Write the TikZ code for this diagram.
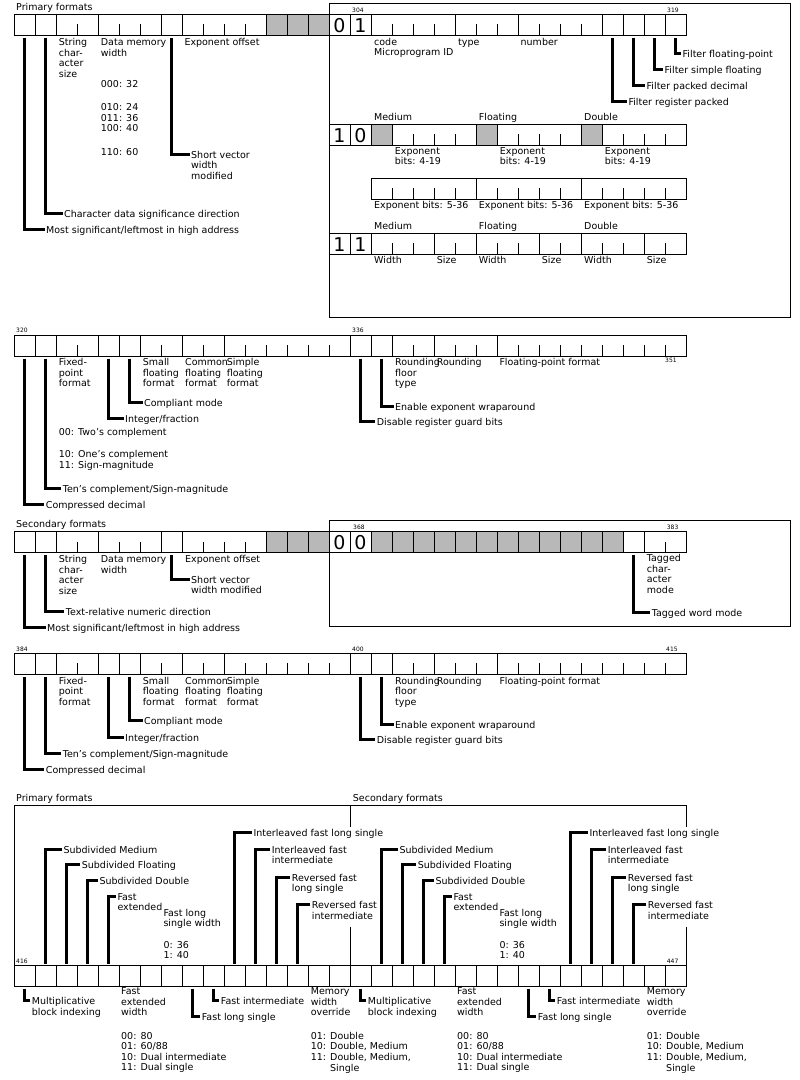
\documentclass[tikz,border=0pt]{standalone}
\usepackage{fontspec}
\setmainfont{DejaVu Sans}

\newcommand{\lblfont}{\fontsize{9.5}{10.6}\selectfont}

% one register row: name, top, first cell, last cell, full dividers
\newcommand{\bitrow}[5]{%
  \pgfmathtruncatemacro{\nextcell}{#3+1}%
  \foreach \bc in {#3,...,#4}{%
    \coordinate (#1-\bc) at ({24.5+21*\bc},{#2+21});
    \coordinate (#1-\bc-t) at ({24.5+21*\bc},{#2});
  }
  \foreach \bc in {\nextcell,...,#4}
    \draw[bittick] ({14+21*\bc},{#2+10}) -- ++(0,11);
  \foreach \bc in {#5}
    \draw[cellline] ({14+21*\bc},{#2}) -- ++(0,21);
  \draw[cellline] ({14+21*#3},{#2}) rectangle ({35+21*#4},{#2+21});
}
% stippled (reserved) cells: top, list of cells
\newcommand{\stipplecells}[2]{%
  \foreach \bc in {#2}
    \draw[cellline, fill=black!28] ({14+21*\bc},{#1}) rectangle ++(21,21);
}

\tikzset{
  cellline/.style={line width=1pt},
  bittick/.style={line width=1pt},
  leader/.style={line width=3pt},
  % labels are placed at the baseline of their first line
  lbl/.style={anchor=north west, yshift=7.42pt, inner sep=0pt, align=left,
    font=\lblfont, execute at begin node=\strut},
  digit/.style={anchor=base, inner sep=0pt, font=\fontsize{19}{19}\selectfont},
  bitno/.style={anchor=base west, inner sep=0pt, font=\fontsize{6}{6}\selectfont},
}

\begin{document}
\begin{tikzpicture}[x=1pt, y=-1pt]
  \useasboundingbox (0,0) rectangle (800,1080);

  % Primary formats, bits 288-319
  \node[lbl] (prim1) at (16,10) {Primary formats};
  \draw[cellline] (329,3) rectangle (790,317);
  \bitrow{a}{14}{0}{31}{1,2,4,7,8,12,13,14,15,16,17,21,24,28,29,30,31}
  \stipplecells{14}{12,13,14}
  \node[digit] (a0) at (339.5,32) {0};
  \node[digit] (a1) at (360.5,32) {1};
  \node[bitno] (n304) at (352,12) {304};
  \node[bitno] (n319) at (667,12) {319};

  \node[lbl] (strsize1) at (58.7,45.7) {String\\char-\\acter\\size};
  \node[lbl] (dmw1) at (100.7,45.7) {Data memory\\width};
  \node[lbl] (dmwa) at (100.7,87) {000: 32};
  \node[lbl] (dmwb) at (100.7,110.7) {010: 24\\011: 36\\100: 40};
  \node[lbl] (dmwc) at (100.7,155.3) {110: 60};
  \node[lbl] (expoff1) at (184.3,45.7) {Exponent offset};
  \node[lbl] (svw1) at (191,158) {Short vector\\width\\modified};
  \node[lbl] (cdsd) at (64,217) {Character data significance direction};
  \node[lbl] (msb1) at (46,233) {Most significant/leftmost in high address};
  \draw[leader] ([yshift=-2.5pt]a-7) |- ([xshift=-1.5pt,yshift=-3.7pt]svw1.north west);
  \draw[leader] ([yshift=-2.5pt]a-1) |- ([xshift=-1.5pt,yshift=-3.7pt]cdsd.north west);
  \draw[leader] ([yshift=-2.5pt]a-0) |- ([xshift=-1.5pt,yshift=-3.7pt]msb1.north west);

  \node[lbl] (code) at (374,45) {code\\Microprogram ID};
  \node[lbl] (type) at (458,45) {type};
  \node[lbl] (number) at (520.5,45) {number};
  \node[lbl] (ffp) at (682.5,57) {Filter floating-point};
  \node[lbl] (fsf) at (664.5,73.4) {Filter simple floating};
  \node[lbl] (fpd) at (646.5,89.4) {Filter packed decimal};
  \node[lbl] (frp) at (628.3,105.4) {Filter register packed};
  \draw[leader] ([yshift=-2.5pt]a-31) |- ([xshift=-1.5pt,yshift=-3.7pt]ffp.north west);
  \draw[leader] ([yshift=-2.5pt]a-30) |- ([xshift=-1.5pt,yshift=-3.7pt]fsf.north west);
  \draw[leader] ([yshift=-2.5pt]a-29) |- ([xshift=-1.5pt,yshift=-3.7pt]fpd.north west);
  \draw[leader] ([yshift=-2.5pt]a-28) |- ([xshift=-1.5pt,yshift=-3.7pt]frp.north west);

  % 10: exponent bits 4-19
  \bitrow{b}{124.3}{15}{31}{16,17,18,22,23,27,28}
  \stipplecells{124.3}{17,22,27}
  \node[digit] (b0) at (339.5,142.3) {1};
  \node[digit] (b1) at (360.5,142.3) {0};
  \node[lbl] (medb) at (374,120.7) {Medium};
  \node[lbl] (floatb) at (478.7,120.7) {Floating};
  \node[lbl] (dblb) at (584,120.7) {Double};
  \node[lbl] (expb1) at (394.7,154.5) {Exponent\\bits: 4-19};
  \node[lbl] (expb2) at (499.7,154.5) {Exponent\\bits: 4-19};
  \node[lbl] (expb3) at (604.7,154.5) {Exponent\\bits: 4-19};

  % exponent bits 5-36
  \bitrow{c}{178.3}{17}{31}{22,27}
  \node[lbl] (expc1) at (374,208.3) {Exponent bits: 5-36};
  \node[lbl] (expc2) at (478.7,208.3) {Exponent bits: 5-36};
  \node[lbl] (expc3) at (584,208.3) {Exponent bits: 5-36};

  % 11: width and size
  \bitrow{d}{233.3}{15}{31}{16,17,20,22,25,27,30}
  \node[digit] (d0) at (339.5,251.3) {1};
  \node[digit] (d1) at (360.5,251.3) {1};
  \node[lbl] (medd) at (374,229.7) {Medium};
  \node[lbl] (floatd) at (478.7,229.7) {Floating};
  \node[lbl] (dbld) at (584,229.7) {Double};
  \node[lbl] (wid1) at (374,263.3) {Width};
  \node[lbl] (siz1) at (436.7,263.3) {Size};
  \node[lbl] (wid2) at (478.7,263.3) {Width};
  \node[lbl] (siz2) at (541.7,263.3) {Size};
  \node[lbl] (wid3) at (584,263.3) {Width};
  \node[lbl] (siz3) at (646.7,263.3) {Size};

  % bits 320-351
  \bitrow{e}{335}{0}{31}{1,2,4,5,6,8,10,16,17,18,20,23}
  \node[bitno] (n320) at (16,332.5) {320};
  \node[bitno] (n336) at (352,332.5) {336};
  \node[bitno] (n351) at (665,362) {351};
  \node[lbl] (fixe) at (58.7,365.7) {Fixed-\\point\\format};
  \node[lbl] (smalle) at (142.7,365.7) {Small\\floating\\format};
  \node[lbl] (comme) at (185,365.7) {Common\\floating\\format};
  \node[lbl] (simpe) at (226.7,365.7) {Simple\\floating\\format};
  \node[lbl] (compl1) at (144,406.4) {Compliant mode};
  \node[lbl] (intf1) at (125,422.4) {Integer/fraction};
  \node[lbl] (twos) at (58.7,435.5) {00: Two's complement};
  \node[lbl] (ones) at (58.7,457.7) {10: One's complement\\11: Sign-magnitude};
  \node[lbl] (tens1) at (62.7,492) {Ten's complement/Sign-magnitude};
  \node[lbl] (cdec1) at (45.7,508) {Compressed decimal};
  \draw[leader] ([yshift=-2.5pt]e-5) |- ([xshift=-1.5pt,yshift=-3.7pt]compl1.north west);
  \draw[leader] ([yshift=-2.5pt]e-4) |- ([xshift=-1.5pt,yshift=-3.7pt]intf1.north west);
  \draw[leader] ([yshift=-2.5pt]e-1) |- ([xshift=-1.5pt,yshift=-3.7pt]tens1.north west);
  \draw[leader] ([yshift=-2.5pt]e-0) |- ([xshift=-1.5pt,yshift=-3.7pt]cdec1.north west);
  \node[lbl] (rfl1) at (395,365.7) {Rounding\\floor\\type};
  \node[lbl] (rnd1) at (436.7,365.7) {Rounding};
  \node[lbl] (fpf1) at (499.3,365.7) {Floating-point format};
  \node[lbl] (ewr1) at (395,410.4) {Enable exponent wraparound};
  \node[lbl] (drg1) at (376.7,425.4) {Disable register guard bits};
  \draw[leader] ([yshift=-2.5pt]e-17) |- ([xshift=-1.5pt,yshift=-3.7pt]ewr1.north west);
  \draw[leader] ([yshift=-2.5pt]e-16) |- ([xshift=-1.5pt,yshift=-3.7pt]drg1.north west);

  % Secondary formats, bits 352-383
  \node[lbl] (sec1) at (16,527.3) {Secondary formats};
  \draw[cellline] (329,520) rectangle (790,626);
  \bitrow{f}{531.5}{0}{31}{1,2,4,7,8,12,13,14,15,16,17,18,19,20,21,22,23,24,25,26,27,28,29,30}
  \stipplecells{531.5}{12,13,14,17,18,19,20,21,22,23,24,25,26,27,28}
  \node[digit] (f0) at (339.5,549.5) {0};
  \node[digit] (f1) at (360.5,549.5) {0};
  \node[bitno] (n368) at (353,529) {368};
  \node[bitno] (n383) at (666.7,529) {383};
  \node[lbl] (strsize2) at (58.7,562.7) {String\\char-\\acter\\size};
  \node[lbl] (dmw2) at (100.7,562.7) {Data memory\\width};
  \node[lbl] (expoff2) at (185,562.7) {Exponent offset};
  \node[lbl] (svw2) at (191,583) {Short vector\\width modified};
  \node[lbl] (trnd) at (65.7,615.4) {Text-relative numeric direction};
  \node[lbl] (msb2) at (47,631.4) {Most significant/leftmost in high address};
  \node[lbl] (tagc) at (646.7,561.7) {Tagged\\char-\\acter\\mode};
  \node[lbl] (tagw) at (651.7,616.4) {Tagged word mode};
  \draw[leader] ([yshift=-2.5pt]f-7) |- ([xshift=-1.5pt,yshift=-3.7pt]svw2.north west);
  \draw[leader] ([yshift=-2.5pt]f-1) |- ([xshift=-1.5pt,yshift=-3.7pt]trnd.north west);
  \draw[leader] ([yshift=-2.5pt]f-0) |- ([xshift=-1.5pt,yshift=-3.7pt]msb2.north west);
  \draw[leader] ([yshift=-2.5pt]f-29) |- ([xshift=-1.5pt,yshift=-3.7pt]tagw.north west);

  % bits 384-415
  \bitrow{g}{653.3}{0}{31}{1,2,4,5,6,8,10,16,17,18,20,23}
  \node[bitno] (n384) at (16,651) {384};
  \node[bitno] (n400) at (352,651) {400};
  \node[bitno] (n415) at (666,651) {415};
  \node[lbl] (fixg) at (58.7,684.3) {Fixed-\\point\\format};
  \node[lbl] (smallg) at (142.7,684.3) {Small\\floating\\format};
  \node[lbl] (commg) at (185,684.3) {Common\\floating\\format};
  \node[lbl] (simpg) at (226.7,684.3) {Simple\\floating\\format};
  \node[lbl] (compl2) at (144,724.4) {Compliant mode};
  \node[lbl] (intf2) at (125,741) {Integer/fraction};
  \node[lbl] (tens2) at (62.7,757) {Ten's complement/Sign-magnitude};
  \node[lbl] (cdec2) at (45.7,773) {Compressed decimal};
  \draw[leader] ([yshift=-2.5pt]g-5) |- ([xshift=-1.5pt,yshift=-3.7pt]compl2.north west);
  \draw[leader] ([yshift=-2.5pt]g-4) |- ([xshift=-1.5pt,yshift=-3.7pt]intf2.north west);
  \draw[leader] ([yshift=-2.5pt]g-1) |- ([xshift=-1.5pt,yshift=-3.7pt]tens2.north west);
  \draw[leader] ([yshift=-2.5pt]g-0) |- ([xshift=-1.5pt,yshift=-3.7pt]cdec2.north west);
  \node[lbl] (rfl2) at (395,684.3) {Rounding\\floor\\type};
  \node[lbl] (rnd2) at (436.7,684.3) {Rounding};
  \node[lbl] (fpf2) at (499.3,684.3) {Floating-point format};
  \node[lbl] (ewr2) at (395,728) {Enable exponent wraparound};
  \node[lbl] (drg2) at (376.7,743.7) {Disable register guard bits};
  \draw[leader] ([yshift=-2.5pt]g-17) |- ([xshift=-1.5pt,yshift=-3.7pt]ewr2.north west);
  \draw[leader] ([yshift=-2.5pt]g-16) |- ([xshift=-1.5pt,yshift=-3.7pt]drg2.north west);

  % bits 416-447, primary and secondary halves
  \node[lbl] (prim2) at (16,801) {Primary formats};
  \node[lbl] (sec2) at (352.7,801) {Secondary formats};
  \draw[cellline] (14,965) -- (14,805) -- (686,805) -- (686,826.7);
  \draw[cellline] (350,805) -- (350,826.7);
  \draw[cellline] (350,926.7) -- (350,965);
  \draw[cellline] (686,926.7) -- (686,965);
  \bitrow{h}{965}{0}{31}{1,...,31}
  \node[bitno] (n416) at (16,963) {416};
  \node[bitno] (n447) at (666.7,963) {447};

  \foreach \h/\o in {p/0,s/336}{
    \node[lbl] (subm\h) at ({63.3+\o},853) {Subdivided Medium};
    \node[lbl] (subf\h) at ({81.7+\o},868.4) {Subdivided Floating};
    \node[lbl] (subd\h) at ({99.3+\o},884.4) {Subdivided Double};
    \node[lbl] (fastx\h) at ({117.3+\o},900.4) {Fast\\extended};
    \node[lbl] (flsw\h) at ({163.3+\o},916) {Fast long\\single width};
    \node[lbl] (flsv\h) at ({163.3+\o},948.3) {0: 36\\1: 40};
    \node[lbl] (ifls\h) at ({253.3+\o},836.4) {Interleaved fast long single};
    \node[lbl] (ifi\h) at ({271.7+\o},853) {Interleaved fast\\intermediate};
    \node[lbl] (rfls\h) at ({291.7+\o},881) {Reversed fast\\long single};
    \node[lbl] (rfi\h) at ({311.7+\o},908.7) {Reversed fast\\intermediate};
    \draw[leader] ([xshift=\o pt,yshift=1.5pt]h-1-t) |- ([xshift=-1.5pt,yshift=-3.7pt]subm\h.north west);
    \draw[leader] ([xshift=\o pt,yshift=1.5pt]h-2-t) |- ([xshift=-1.5pt,yshift=-3.7pt]subf\h.north west);
    \draw[leader] ([xshift=\o pt,yshift=1.5pt]h-3-t) |- ([xshift=-1.5pt,yshift=-3.7pt]subd\h.north west);
    \draw[leader] ([xshift=\o pt,yshift=1.5pt]h-4-t) |- ([xshift=-1.5pt,yshift=-3.7pt]fastx\h.north west);
    \draw[leader] ([xshift=\o pt,yshift=1.5pt]h-10-t) |- ([xshift=-1.5pt,yshift=-3.7pt]ifls\h.north west);
    \draw[leader] ([xshift=\o pt,yshift=1.5pt]h-11-t) |- ([xshift=-1.5pt,yshift=-3.7pt]ifi\h.north west);
    \draw[leader] ([xshift=\o pt,yshift=1.5pt]h-12-t) |- ([xshift=-1.5pt,yshift=-3.7pt]rfls\h.north west);
    \draw[leader] ([xshift=\o pt,yshift=1.5pt]h-13-t) |- ([xshift=-1.5pt,yshift=-3.7pt]rfi\h.north west);

    \node[lbl] (mbi\h) at ({31.7+\o},1004.4) {Multiplicative\\block indexing};
    \node[lbl] (fxw\h) at ({121+\o},995) {Fast\\extended\\width};
    \node[lbl] (fxwv\h) at ({121+\o},1039.3) {00: 80\\01: 60/88\\10: Dual intermediate\\11: Dual single};
    \node[lbl] (fls\h) at ({201.7+\o},1020.4) {Fast long single};
    \node[lbl] (fint\h) at ({220.7+\o},1004.4) {Fast intermediate};
    \node[lbl] (mwo\h) at ({310.7+\o},995) {Memory\\width\\override};
    \node[lbl] (mwov\h) at ({310.7+\o},1039.3) {01: Double\\10: Double, Medium\\11: Double, Medium,\\\phantom{11: }Single};
    \draw[leader] ([xshift=\o pt,yshift=-2.5pt]h-0) |- ([xshift=-1.5pt,yshift=-3.7pt]mbi\h.north west);
    \draw[leader] ([xshift=\o pt,yshift=-2.5pt]h-8) |- ([xshift=-1.5pt,yshift=-3.7pt]fls\h.north west);
    \draw[leader] ([xshift=\o pt,yshift=-2.5pt]h-9) |- ([xshift=-1.5pt,yshift=-3.7pt]fint\h.north west);
  }
\end{tikzpicture}
\end{document}
